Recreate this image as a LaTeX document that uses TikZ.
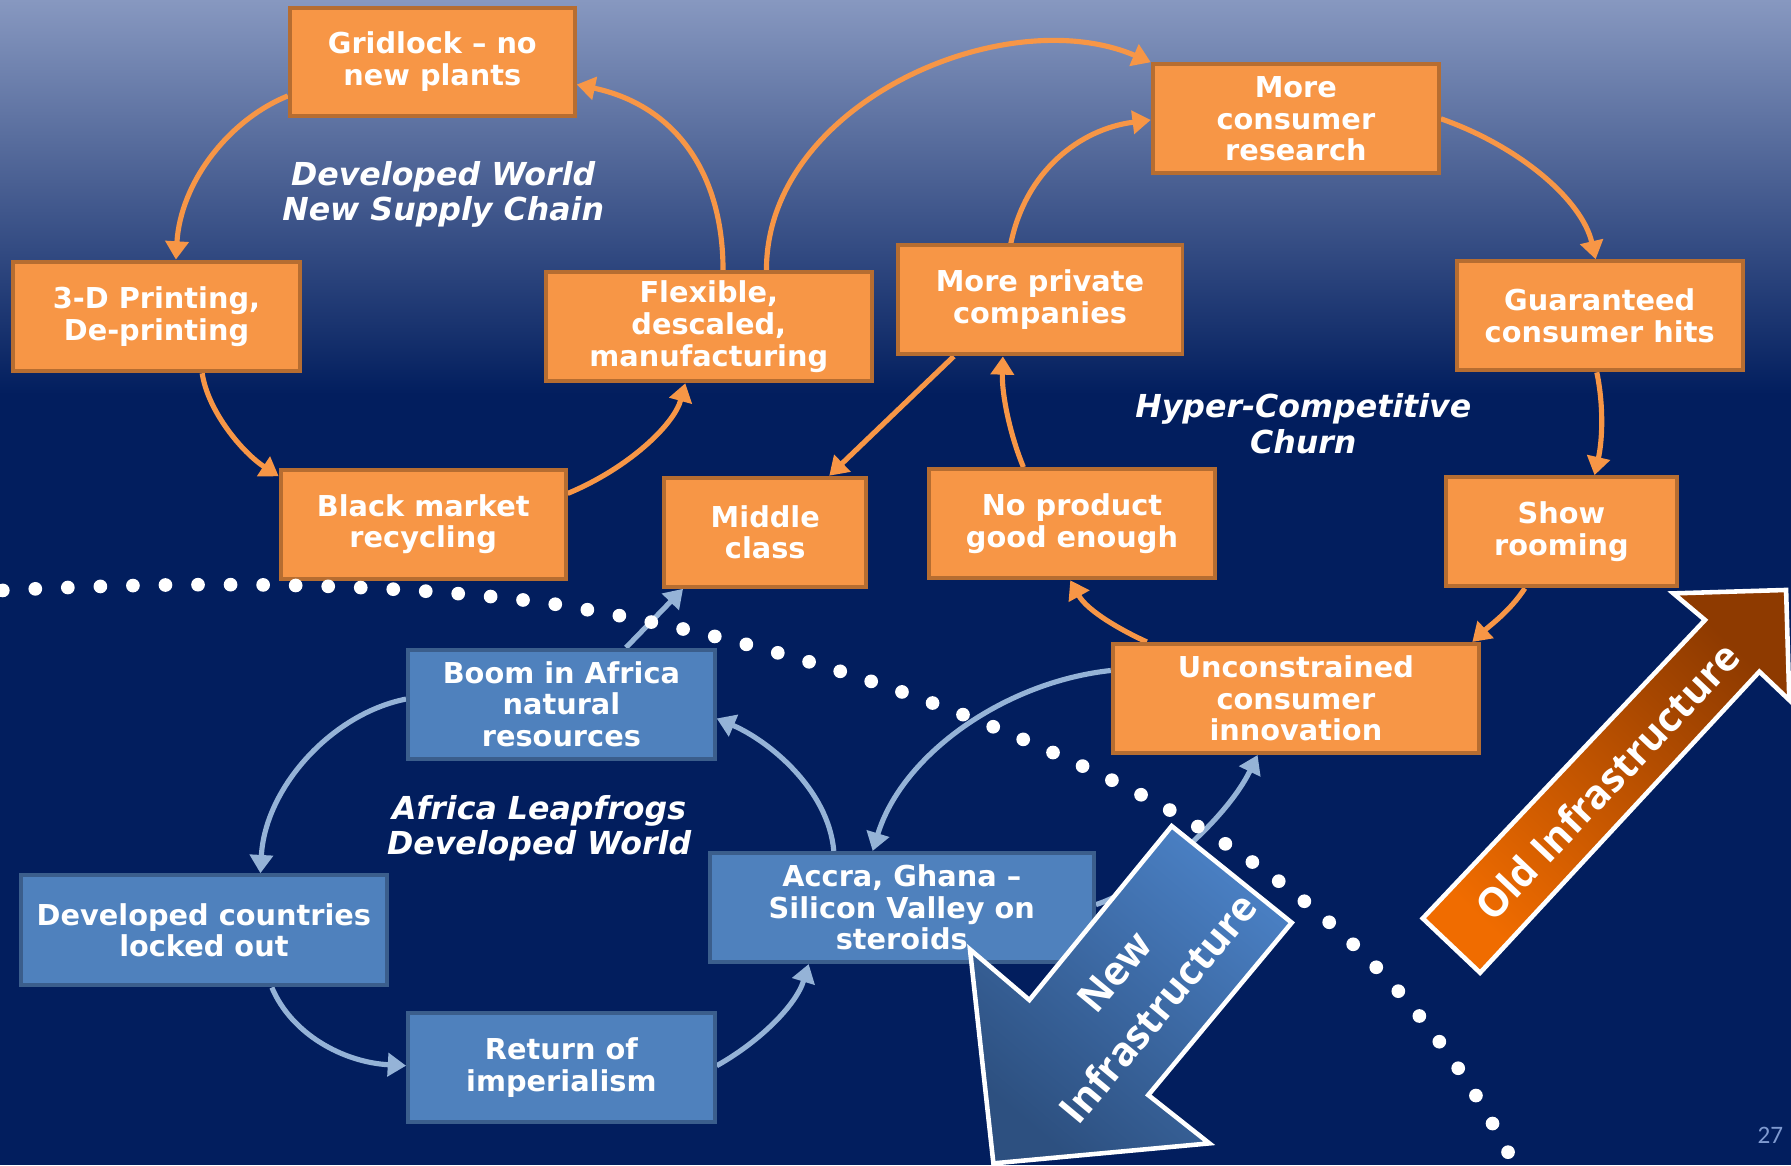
\documentclass[tikz,border=0pt]{standalone}
\usepackage{fontspec}
\setmainfont{DejaVu Sans}
\newfontfamily\arrowfont{Open Sans}
\newfontfamily\numfont{Carlito}
\usetikzlibrary{arrows.meta}
\definecolor{navy}{HTML}{021E5E}
\definecolor{skytop}{HTML}{8798C0}
\definecolor{ofill}{HTML}{F79646}
\definecolor{oline}{HTML}{B66D31}
\definecolor{bfill}{HTML}{4F81BD}
\definecolor{bline}{HTML}{3B5E8C}
\definecolor{barrowc}{HTML}{95B3D7}
\definecolor{oldA}{HTML}{F06C00}
\definecolor{oldB}{HTML}{8E3A00}
\definecolor{newA}{HTML}{2D5080}
\definecolor{newB}{HTML}{4A80C4}
\definecolor{pagec}{HTML}{7F9AD0}
\pgfdeclarelayer{back}
\pgfdeclarelayer{conn}
\pgfsetlayers{back,conn,main}
\begin{document}
\begin{tikzpicture}[x=1pt,y=-1pt,
  boxbase/.style={line width=3.5pt, text=white, align=center, inner sep=0pt,
    font=\fontsize{25.2}{27.7}\selectfont\bfseries},
  obox/.style={boxbase, draw=oline, fill=ofill},
  bbox/.style={boxbase, draw=bline, fill=bfill},
  oarr/.style={draw=ofill, line width=4.5pt, -{Triangle[length=16pt,width=20pt]}},
  barr/.style={draw=barrowc, line width=4.5pt, -{Triangle[length=16pt,width=20pt]}},
  cyclelabel/.style={text=white, align=center, font=\fontsize{27.7}{31}\selectfont\bfseries\itshape},
  bigarrow/.style={draw=white, line width=4pt, line join=miter}
]
\useasboundingbox (0,0) rectangle (1568,1020);
\clip (0,0) rectangle (1568,1020);

\begin{pgfonlayer}{back}
  \fill[navy] (0,0) rectangle (1568,1020);
  \shade[top color=skytop, bottom color=navy] (0,0) rectangle (1568,345);
\end{pgfonlayer}

% orange boxes
\node[obox, minimum width=249.5pt, minimum height=94.5pt] (grid) at (378.5,54) {Gridlock – no\\new plants};
\node[obox, minimum width=250.5pt, minimum height=96pt] (td) at (137,277) {3-D Printing,\\De-printing};
\node[obox, minimum width=285.5pt, minimum height=95.5pt] (flex) at (620.5,286) {Flexible,\\descaled,\\manufacturing};
\node[obox, minimum width=249.5pt, minimum height=95.5pt] (bm) at (370.5,459) {Black market\\recycling};
\node[obox, minimum width=176.5pt, minimum height=95.5pt] (mid) at (670,466) {Middle\\class};
\node[obox, minimum width=249.5pt, minimum height=95.5pt] (mpc) at (910.5,262.5) {More private\\companies};
\node[obox, minimum width=250.5pt, minimum height=95.5pt] (mcr) at (1134.5,104) {More\\consumer\\research};
\node[obox, minimum width=250.5pt, minimum height=95.5pt] (gch) at (1400.5,276.5) {Guaranteed\\consumer hits};
\node[obox, minimum width=202.5pt, minimum height=95.5pt] (show) at (1367,465.5) {Show\\rooming};
\node[obox, minimum width=250.5pt, minimum height=95.5pt] (nop) at (938.5,458.5) {No product\\good enough};
\node[obox, minimum width=320.5pt, minimum height=95.5pt] (unc) at (1134.5,611.5) {Unconstrained\\consumer\\innovation};
% blue boxes
\node[bbox, minimum width=268.5pt, minimum height=95.5pt] (boom) at (491.5,616.5) {Boom in Africa\\natural\\resources};
\node[bbox, minimum width=320.5pt, minimum height=96.5pt] (dev) at (178.5,814.5) {Developed countries\\locked out};
\node[bbox, minimum width=268.5pt, minimum height=95.5pt] (ret) at (491.5,934.5) {Return of\\imperialism};
\node[bbox, minimum width=336.5pt, minimum height=95.5pt] (accra) at (789.5,794.5) {Accra, Ghana –\\Silicon Valley on\\steroids};

% cycle labels
\node[cyclelabel] (lab1) at (388,170) {Developed World\\New Supply Chain};
\node[cyclelabel] (lab2) at (1141,371) {Hyper-Competitive\\Churn};
\node[cyclelabel] (lab3) at (472,725) {Africa Leapfrogs\\Developed World};

\begin{pgfonlayer}{conn}
  % developed world cycle
  \draw[oarr] (grid.west |- 0,84) .. controls (200,105) and (158,160) .. (td.north -| 154,0);
  \draw[oarr] (td.south -| 177,0) .. controls (182,360) and (212,396) .. (bm.west |- 0,417);
  \draw[oarr] (bm.east |- 0,432) .. controls (550,410) and (590,372) .. (flex.south -| 600,0);
  \draw[oarr] (flex.north -| 633,0) .. controls (633,150) and (590,92) .. (grid.east |- 0,74);
  % hyper-competitive cycle
  \draw[oarr] (flex.north -| 671,0) .. controls (671,90) and (880,0) .. (mcr.north west);
  \draw[oarr] (mpc.north -| 885,0) .. controls (898,150) and (945,113) .. (mcr.west |- 0,105);
  \draw[oarr] (mcr.east |- 0,104) .. controls (1330,128) and (1385,175) .. (gch.north -| 1397,0);
  \draw[oarr] (gch.south -| 1398,0) .. controls (1404,355) and (1403,385) .. (show.north -| 1396,0);
  \draw[oarr] (show.south -| 1335,0) .. controls (1322,535) and (1305,547) .. (unc.north -| 1289,0);
  \draw[oarr] (unc.north -| 1004,0) .. controls (982,552) and (952,535) .. (nop.south -| 937,0);
  \draw[oarr] (nop.north -| 896,0) .. controls (884,380) and (877,345) .. (mpc.south -| 878,0);
  \draw[oarr] (mpc.south -| 835,0) -- (mid.north -| 726,0);
  % africa cycle
  \draw[barr] (boom.north -| 548,0) -- (mid.south -| 598,0);
  \draw[barr] (boom.west |- 0,612) .. controls (290,625) and (232,690) .. (dev.north -| 228,0);
  \draw[barr] (dev.south -| 238,0) .. controls (255,905) and (300,930) .. (ret.west |- 0,933);
  \draw[barr] (ret.east |- 0,933) .. controls (665,912) and (697,880) .. (accra.south -| 708,0);
  \draw[barr] (accra.north -| 730,0) .. controls (725,690) and (672,648) .. (boom.east |- 0,629);
  \draw[barr] (unc.west |- 0,587) .. controls (880,597) and (790,660) .. (accra.north -| 764,0);
  \draw[barr] (accra.east |- 0,792) .. controls (1010,775) and (1075,715) .. (unc.south -| 1101,0);
\end{pgfonlayer}

% new infrastructure arrow (light at tail, dark at tip)
\shadedraw[bigarrow, top color=newB, bottom color=newA, shading angle=-40]
  (1025.8,723.2) -- (1130.9,807.8) -- (1005.3,958.7) -- (1058.8,1001) -- (869.7,1018.5)
  -- (849.2,831.2) -- (901.2,875.5) -- cycle;
\node[text=white, align=center, rotate=50.3, font=\arrowfont\bfseries\fontsize{35}{50}\selectfont]
  (newtxt) at (995,867) {New\\Infrastructure};

% old infrastructure arrow (bright at tail, dark at tip)
\shadedraw[bigarrow, top color=oldB, bottom color=oldA, shading angle=-43.4]
  (1245.6,804) -- (1492.7,542.8) -- (1465,519.5) -- (1563.7,516.5) -- (1566.5,612.9)
  -- (1540.3,588) -- (1295.8,851.6) -- cycle;
\node[text=white, rotate=46.6, font=\arrowfont\bfseries\fontsize{35}{42}\selectfont]
  (oldtxt) at (1407,684) {Old Infrastructure};

% dotted boundary
\draw[white, line width=12pt, line cap=round, dash pattern=on 0pt off 28.5pt]
  (-26,518.5) .. controls (150,508) and (335,509) .. (480,528)
  .. controls (660,556.8) and (833,609.4) .. (1013,703)
  .. controls (1163,785.5) and (1260,888) .. (1325,1018) -- (1345,1060);

% page number
\node[text=pagec, font=\numfont\fontsize{22}{26}\selectfont] (pnum) at (1550,994) {27};
\end{tikzpicture}
\end{document}
